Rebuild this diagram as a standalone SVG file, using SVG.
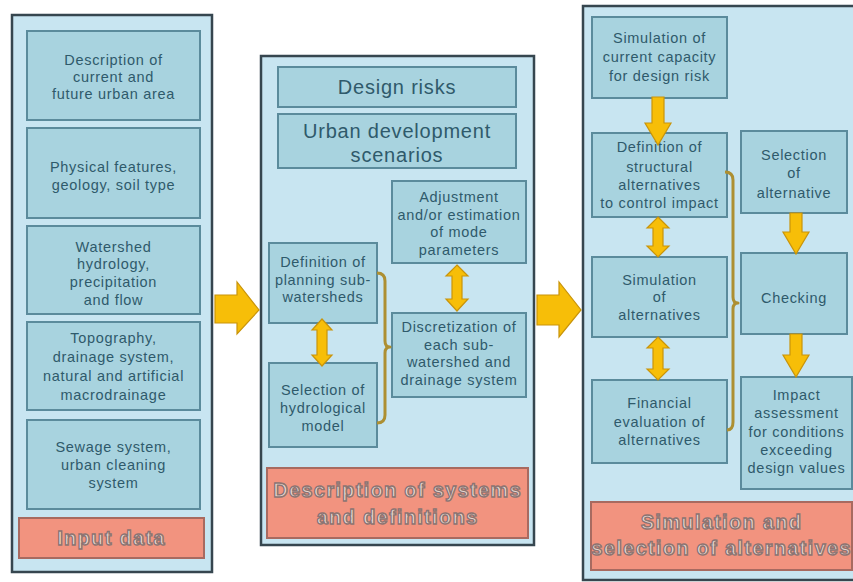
<svg xmlns="http://www.w3.org/2000/svg" width="853" height="582" viewBox="0 0 853 582">
<style>
.panel{fill:#c8e5f1;stroke:#36464f;stroke-width:2.5}
.box{fill:#a8d3df;stroke:#5b8b9c;stroke-width:2}
.red{fill:#f2937f;stroke:#a86a60;stroke-width:2}
.t{font-family:"Liberation Sans",Arial,sans-serif;font-size:14.5px;letter-spacing:0.7px;fill:#2f5a6b;text-anchor:middle}
.big{font-family:"Liberation Sans",Arial,sans-serif;font-size:20px;letter-spacing:0.8px;fill:#2f5a6b;text-anchor:middle}
.lab{font-family:"Liberation Sans",Arial,sans-serif;font-size:20px;font-weight:bold;fill:#e9d9d2;stroke:#8c7472;stroke-width:1.4;text-anchor:middle;letter-spacing:1.3px}
.arr{fill:#f7be08;stroke:#c9940a;stroke-width:1.2}
.br{fill:none;stroke:#ad8f32;stroke-width:3;stroke-linejoin:round}
</style>
<rect width="853" height="582" fill="#ffffff"/>

<g id="panel-input">
<rect class="panel" x="12" y="15" width="200" height="557"/>
</g>
<g id="n-desc-area">
<rect class="box" x="27" y="31" width="173" height="89"/>
<text class="t"><tspan x="113.5" y="65">Description of</tspan><tspan x="113.5" y="82">current and</tspan><tspan x="113.5" y="99">future urban area</tspan></text>
</g>
<g id="n-physical">
<rect class="box" x="27" y="128" width="173" height="90"/>
<text class="t"><tspan x="113.5" y="172">Physical features,</tspan><tspan x="113.5" y="190">geology, soil type</tspan></text>
</g>
<g id="n-watershed">
<rect class="box" x="27" y="226" width="173" height="88"/>
<text class="t"><tspan x="113.5" y="252">Watershed</tspan><tspan x="113.5" y="269">hydrology,</tspan><tspan x="113.5" y="287">precipitation</tspan><tspan x="113.5" y="305">and flow</tspan></text>
</g>
<g id="n-topography">
<rect class="box" x="27" y="322" width="173" height="88"/>
<text class="t"><tspan x="113.5" y="343">Topography,</tspan><tspan x="113.5" y="362">drainage system,</tspan><tspan x="113.5" y="381">natural and artificial</tspan><tspan x="113.5" y="400">macrodrainage</tspan></text>
</g>
<g id="n-sewage">
<rect class="box" x="27" y="420" width="173" height="89"/>
<text class="t"><tspan x="113.5" y="452">Sewage system,</tspan><tspan x="113.5" y="470">urban cleaning</tspan><tspan x="113.5" y="488">system</tspan></text>
</g>
<g id="n-input-data">
<rect class="red" x="19" y="518" width="185" height="40"/>
<text class="lab" x="111.5" y="545">Input data</text>
</g>

<g id="panel-description">
<rect class="panel" x="261" y="56" width="273" height="489"/>
</g>
<g id="n-design-risks">
<rect class="box" x="278" y="67" width="238" height="40"/>
<text class="big" x="397" y="94">Design risks</text>
</g>
<g id="n-urban-dev">
<rect class="box" x="278" y="114" width="238" height="54"/>
<text class="big"><tspan x="397" y="138">Urban development</tspan><tspan x="397" y="162">scenarios</tspan></text>
</g>
<g id="n-adjustment">
<rect class="box" x="392" y="181" width="134" height="82"/>
<text class="t"><tspan x="459" y="202">Adjustment</tspan><tspan x="459" y="219.5">and/or estimation</tspan><tspan x="459" y="237">of mode</tspan><tspan x="459" y="255">parameters</tspan></text>
</g>
<g id="n-def-planning">
<rect class="box" x="269" y="243" width="108" height="80"/>
<text class="t"><tspan x="323" y="267">Definition of</tspan><tspan x="323" y="285">planning sub-</tspan><tspan x="323" y="302">watersheds</tspan></text>
</g>
<g id="n-selection-hydro">
<rect class="box" x="269" y="363" width="108" height="84"/>
<text class="t"><tspan x="323" y="395">Selection of</tspan><tspan x="323" y="413">hydrological</tspan><tspan x="323" y="431">model</tspan></text>
</g>
<g id="n-discretization">
<rect class="box" x="392" y="313" width="134" height="84"/>
<text class="t"><tspan x="459" y="332">Discretization of</tspan><tspan x="459" y="350">each sub-</tspan><tspan x="459" y="367">watershed and</tspan><tspan x="459" y="385">drainage system</tspan></text>
</g>
<g id="n-desc-systems">
<rect class="red" x="267" y="468" width="261" height="70"/>
<text class="lab"><tspan x="397.5" y="497">Description of systems</tspan><tspan x="397.5" y="524">and definitions</tspan></text>
</g>

<g id="panel-simulation">
<rect class="panel" x="583" y="6" width="274" height="574"/>
</g>
<g id="n-sim-current">
<rect class="box" x="592" y="17" width="135" height="81"/>
<text class="t"><tspan x="659.5" y="43">Simulation of</tspan><tspan x="659.5" y="62">current capacity</tspan><tspan x="659.5" y="81">for design risk</tspan></text>
</g>
<g id="n-def-structural">
<rect class="box" x="592" y="133" width="135" height="84"/>
<text class="t"><tspan x="659.5" y="152">Definition of</tspan><tspan x="659.5" y="172">structural</tspan><tspan x="659.5" y="190">alternatives</tspan><tspan x="659.5" y="208">to control impact</tspan></text>
</g>
<g id="n-selection-alt">
<rect class="box" x="741" y="131" width="106" height="82"/>
<text class="t"><tspan x="794" y="160">Selection</tspan><tspan x="794" y="178">of</tspan><tspan x="794" y="198">alternative</tspan></text>
</g>
<g id="n-sim-alt">
<rect class="box" x="592" y="257" width="135" height="80"/>
<text class="t"><tspan x="659.5" y="285">Simulation</tspan><tspan x="659.5" y="302">of</tspan><tspan x="659.5" y="320">alternatives</tspan></text>
</g>
<g id="n-checking">
<rect class="box" x="741" y="253" width="106" height="81"/>
<text class="t" x="794" y="303">Checking</text>
</g>
<g id="n-financial">
<rect class="box" x="592" y="380" width="135" height="83"/>
<text class="t"><tspan x="659.5" y="408">Financial</tspan><tspan x="659.5" y="427">evaluation of</tspan><tspan x="659.5" y="445">alternatives</tspan></text>
</g>
<g id="n-impact">
<rect class="box" x="741" y="377" width="111" height="112"/>
<text class="t"><tspan x="796.5" y="400">Impact</tspan><tspan x="796.5" y="418">assessment</tspan><tspan x="796.5" y="437">for conditions</tspan><tspan x="796.5" y="455">exceeding</tspan><tspan x="796.5" y="473">design values</tspan></text>
</g>
<g id="n-sim-selection">
<rect class="red" x="591" y="502" width="261" height="68"/>
<text class="lab"><tspan x="721.5" y="529">Simulation and</tspan><tspan x="721.5" y="555">selection of alternatives</tspan></text>
</g>

<g id="connectors">
<path class="arr" d="M215,295 H237 V282 L259,310 L237,334 V323 H215 Z"/>
<path class="arr" d="M537,295 H559 V282 L581,310 L559,337 V325 H537 Z"/>
<path class="br" d="M377,273 Q385,273 385,281 V341 Q385,347 390,347 Q385,347 385,353 V415 Q385,423 377,423"/>
<path class="arr" d="M322,319 L332,330 H327 V355 H332 L322,366 L312,355 H317 V330 H312 Z"/>
<path class="arr" d="M457,265 L468,276 H462 V299 H468 L457,311 L446,299 H452 V276 H446 Z"/>
<path class="arr" d="M652,97 H664 V123 H671 L658,145 L645,123 H652 Z"/>
<path class="arr" d="M658,217 L669,228 H663 V246 H669 L658,257 L647,246 H653 V228 H647 Z"/>
<path class="arr" d="M658,337 L669,348 H663 V369 H669 L658,380 L647,369 H653 V348 H647 Z"/>
<path class="arr" d="M790,213 H802 V232 H809 L796,254 L783,232 H790 Z"/>
<path class="arr" d="M790,334 H802 V355 H809 L796,377 L783,355 H790 Z"/>
<path class="br" d="M725,172 Q733,172 733,180 V297 Q733,303 738,303 Q733,303 733,309 V422 Q733,430 727,430"/>
</g>
</svg>
